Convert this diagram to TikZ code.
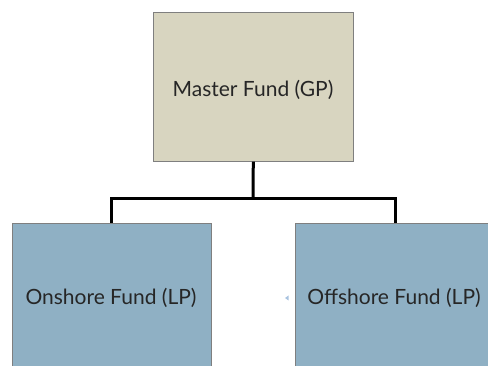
\documentclass[tikz,border=0pt]{standalone}
\usepackage{fontspec}
\setmainfont{Lato}
\definecolor{masterfill}{HTML}{D8D5C0}
\definecolor{fundfill}{HTML}{8FB0C4}
\definecolor{boxline}{HTML}{7F7F7F}
\definecolor{texttone}{HTML}{262626}
\definecolor{hintblue}{HTML}{A9C3E0}
\begin{document}
\begin{tikzpicture}[x=1pt,y=-1pt,
  fundbox/.style={draw=boxline, line width=0.6pt, minimum width=199pt, inner sep=0pt, anchor=north west},
  label/.style={text=texttone, font=\fontsize{21}{25}\selectfont},
  link/.style={line width=3pt, black}]
  \useasboundingbox (0,0) rectangle (488,366);
  \clip (0,0) rectangle (488,366);
  % top-level fund
  \node[fundbox, fill=masterfill, minimum height=149pt, minimum width=200pt] (master) at (153,12) {};
  \node[label] (mlabel) at (253,90) {Master Fund (GP)};
  % feeder funds (run past the lower and right edges)
  \node[fundbox, fill=fundfill, minimum height=160pt] (onshore) at (12,223) {};
  \node[label] (olabel) at (111,298) {Onshore Fund (LP)};
  \node[fundbox, fill=fundfill, minimum height=160pt, minimum width=215pt] (offshore) at (295,223) {};
  \node[label] (flabel) at (394,298) {Offshore Fund (LP)};
  \coordinate (offtop) at (395,223);
  % connectors
  \coordinate (bar) at (253,199);
  \draw[link] (master.south) -- (bar);
  \draw[link, line join=miter] (onshore.north) |- (bar) -| (offtop);
  % small left-pointing marker
  \fill[hintblue] (285,298) -- (288.5,295.5) -- (288.5,300.5) -- cycle;
\end{tikzpicture}
\end{document}
